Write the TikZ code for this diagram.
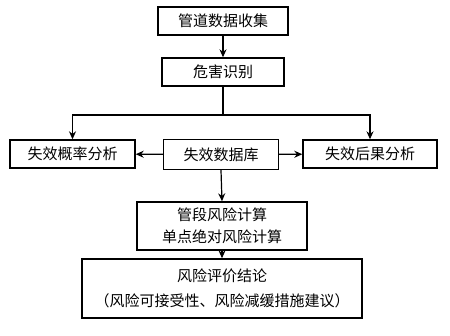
\documentclass[tikz,border=0pt]{standalone}
\usepackage{fontspec}
\setmainfont{Noto Sans CJK SC}
\usetikzlibrary{arrows.meta}
\tikzset{
  stepbox/.style={draw, line width=1.4pt, fill=white, inner sep=0pt, align=center,
    font=\fontsize{15}{22}\selectfont},
  conn/.style={line width=1.2pt},
  arr/.style={conn, -{Stealth[length=8pt, width=7pt]}}
}
\begin{document}
\begin{tikzpicture}[x=1pt, y=-1pt]
  \useasboundingbox (0,0) rectangle (450,335);
  % Kaesten
  \node[stepbox, minimum width=130pt, minimum height=28pt] (collect) at (223,21) {管道数据收集};
  \node[stepbox, minimum width=122pt, minimum height=28pt] (hazard) at (223,72) {危害识别};
  \node[stepbox, minimum width=125pt, minimum height=28pt] (prob) at (72.5,154) {失效概率分析};
  \node[stepbox, minimum width=115pt, minimum height=30pt] (db) at (221,154.5) {失效数据库};
  \node[stepbox, minimum width=134pt, minimum height=28pt] (cons) at (370,154) {失效后果分析};
  \node[stepbox, minimum width=170pt, minimum height=48pt] (calc) at (222,226) {管段风险计算\\单点绝对风险计算};
  \node[stepbox, minimum width=280pt, minimum height=59pt, font=\fontsize{15}{25}\selectfont] (result) at (222,288.5)
    {风险评价结论\\（风险可接受性、风险减缓措施建议）};
  \coordinate (split) at (223,115);

  % Verbindungen
  \draw[arr] (collect) -- (hazard);
  \draw[conn] (hazard) -- (split);
  \draw[arr] (split) -| (prob);
  \draw[arr] (split) -| (cons);
  \draw[arr] (db) -- (prob);
  \draw[arr] (db) -- (cons);
  \draw[arr] (db.south) -- (calc.north);
  \draw[arr] (calc) -- (result);
\end{tikzpicture}
\end{document}
